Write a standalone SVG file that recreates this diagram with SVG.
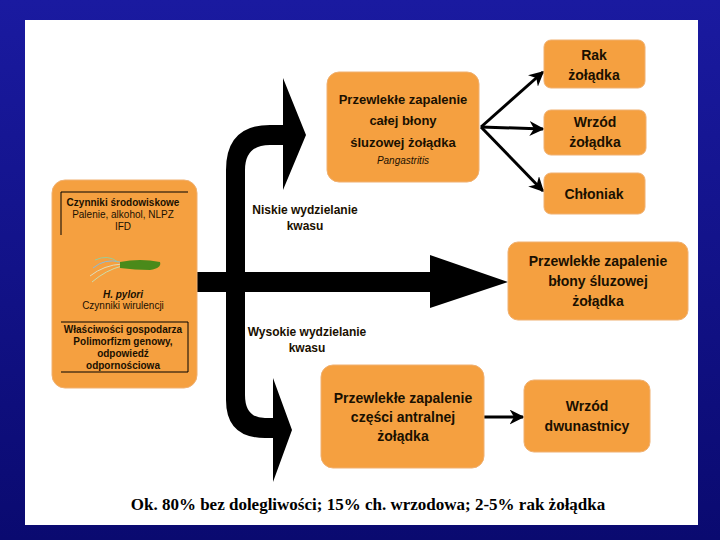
<svg xmlns="http://www.w3.org/2000/svg" width="720" height="540" viewBox="0 0 720 540">
<defs>
<linearGradient id="bg" x1="0" y1="0" x2="0" y2="1"><stop offset="0" stop-color="#1a1aa0"/><stop offset="1" stop-color="#0a0a70"/></linearGradient>
<marker id="ah" viewBox="0 0 10 10" refX="9" refY="5" markerWidth="5" markerHeight="5" orient="auto"><path d="M0,0 L10,5 L0,10 L3,5 Z" fill="#000"/></marker>
</defs>
<style>
.box{fill:#f5a040;stroke:#f0b070;stroke-width:1}
.t{font-family:"Liberation Sans",Arial,sans-serif;font-weight:bold;fill:#1a1000;text-anchor:middle}
.s{font-family:"Liberation Sans",Arial,sans-serif;font-size:10px;fill:#1a1000;text-anchor:middle}
.ln{stroke:#000;stroke-width:3;fill:none;marker-end:url(#ah)}
</style>
<rect width="720" height="540" fill="url(#bg)"/>
<rect x="25" y="20" width="673" height="505" fill="#fff"/>
<g id="connectors">
<path d="M226,420 L226,170 Q226,125 270,125 L283,125 L283,78 L306,135 L283,190 L283,145 L270,145 Q245,145 245,170 L245,272 L430,272 L430,255 L508,282 L430,308 L430,292 L245,292 L245,395 Q245,418 265,418 L273,418 L273,378 L292,430 L273,482 L273,438 L265,438 Q226,438 226,400 Z" fill="#000"/>
<path d="M196,272 L230,272 L230,292 L196,292 Z" fill="#000"/>
<line class="ln" x1="481" y1="127" x2="543" y2="72"/>
<line class="ln" x1="481" y1="127" x2="543" y2="129"/>
<line class="ln" x1="481" y1="127" x2="543" y2="191"/>
<line class="ln" x1="484" y1="417" x2="523" y2="417"/>
</g>
<g id="left">
<rect class="box" x="52" y="180" width="145" height="208" rx="13"/>
<path d="M61,235 L61,192 L188,192" stroke="#000" fill="none" stroke-width="1"/>
<path d="M61,322 L188,322 L188,372 L61,372" stroke="#000" fill="none" stroke-width="1"/>
<text class="s" x="123" y="206" font-weight="bold">Czynniki środowiskowe</text>
<text class="s" x="123" y="218">Palenie, alkohol, NLPZ</text>
<text class="s" x="123" y="230">IFD</text>
<g stroke-width="1" fill="none">
<path d="M93,268 Q105,258 120,262" stroke="#8bd"/><path d="M90,276 Q104,265 122,264" stroke="#ddb"/>
<path d="M95,260 Q108,254 118,262" stroke="#9c9"/><path d="M92,282 Q106,270 122,266" stroke="#cda"/>
</g>
<path d="M120,262 Q140,258 160,262 Q162,268 150,270 Q135,270 120,268 Z" fill="#4a8a1a"/>
<text class="s" x="123" y="298" font-style="italic" font-weight="bold">H. pylori</text>
<text class="s" x="123" y="309">Czynniki wirulencji</text>
<text class="s" x="123" y="333" font-weight="bold">Właściwości gospodarza</text>
<text class="s" x="123" y="345" font-weight="bold">Polimorfizm genowy,</text>
<text class="s" x="123" y="357" font-weight="bold">odpowiedź</text>
<text class="s" x="123" y="369" font-weight="bold">odpornościowa</text>
</g>
<g id="top"><rect class="box" x="327" y="72" width="152" height="110" rx="12"/>
<text class="t" font-size="13" x="403" y="104">Przewlekłe zapalenie</text>
<text class="t" font-size="13" x="403" y="125">całej błony</text>
<text class="t" font-size="13" x="403" y="147">śluzowej żołądka</text>
<text class="s" x="403" y="164" font-style="italic">Pangastritis</text></g>
<g id="rak"><rect class="box" x="544" y="40" width="101" height="48" rx="7"/>
<text class="t" font-size="14" x="594" y="60">Rak</text><text class="t" font-size="14" x="594" y="80">żołądka</text></g>
<g id="wrzod"><rect class="box" x="544" y="110" width="102" height="45" rx="7"/>
<text class="t" font-size="14" x="595" y="127">Wrzód</text><text class="t" font-size="14" x="595" y="147">żołądka</text></g>
<g id="chloniak"><rect class="box" x="544" y="173" width="101" height="41" rx="7"/>
<text class="t" font-size="14" x="594" y="199">Chłoniak</text></g>
<g id="mid"><rect class="box" x="508" y="242" width="180" height="78" rx="10"/>
<text class="t" font-size="14" x="598" y="266">Przewlekłe zapalenie</text>
<text class="t" font-size="14" x="598" y="286">błony śluzowej</text>
<text class="t" font-size="14" x="598" y="306">żołądka</text></g>
<g id="bottom"><rect class="box" x="321" y="365" width="163" height="103" rx="12"/>
<text class="t" font-size="14" x="403" y="403">Przewlekłe zapalenie</text>
<text class="t" font-size="14" x="403" y="422">części antralnej</text>
<text class="t" font-size="14" x="403" y="441">żołądka</text></g>
<g id="dwun"><rect class="box" x="524" y="380" width="126" height="72" rx="10"/>
<text class="t" font-size="14" x="587" y="411">Wrzód</text><text class="t" font-size="14" x="587" y="431">dwunastnicy</text></g>
<text class="t" font-size="12" x="305" y="214" fill="#000">Niskie wydzielanie</text>
<text class="t" font-size="12" x="305" y="230" fill="#000">kwasu</text>
<text class="t" font-size="12" x="307" y="336" fill="#000">Wysokie wydzielanie</text>
<text class="t" font-size="12" x="307" y="352" fill="#000">kwasu</text>
<text x="368" y="510" font-family="'Liberation Serif','Times New Roman',serif" font-weight="bold" font-size="17" text-anchor="middle" fill="#000">Ok. 80% bez dolegliwości; 15% ch. wrzodowa; 2-5% rak żołądka</text>
</svg>
